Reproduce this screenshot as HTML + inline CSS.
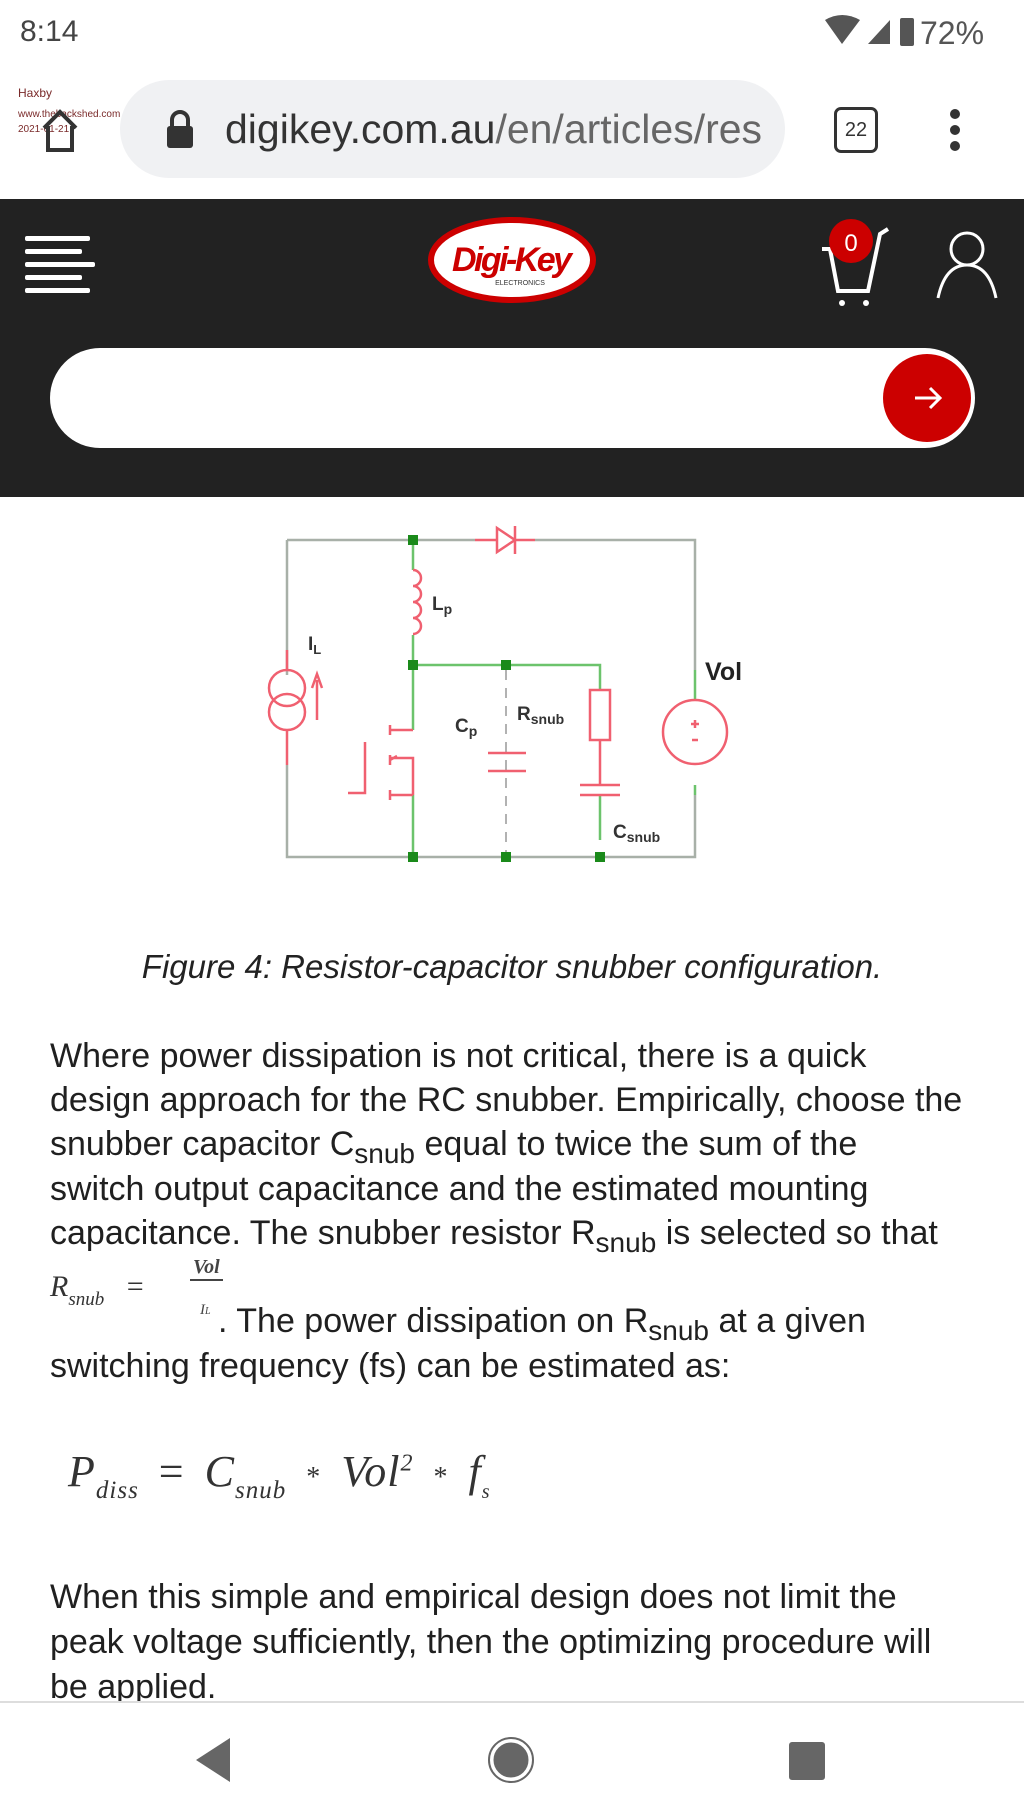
<!DOCTYPE html>
<html><head><meta charset="utf-8"><style>
body{margin:0;width:1024px;height:1820px;background:#fff;position:relative;overflow:hidden;font-family:"Liberation Sans",sans-serif;}
.a{position:absolute;white-space:nowrap;}
.t{position:absolute;left:50px;font-size:34px;color:#202020;white-space:nowrap;line-height:1;}
sub{font-size:28px;vertical-align:-8px;line-height:0;}
</style></head><body>
<div class="a" style="left:20px;top:15px;font-size:30px;color:#444">8:14</div>
<svg class="a" style="left:820px;top:12px" width="204" height="40">
<path d="M5 8 Q22 -2 40 8 L22 32 Z" fill="#555"/>
<path d="M48 32 L70 8 L70 32 Z" fill="#555"/>
<rect x="80" y="6" width="14" height="28" rx="2" fill="#555"/>
<text x="100" y="32" font-size="32" fill="#555" font-family="Liberation Sans">72%</text>
</svg>
<div class="a" style="left:18px;top:86px;font-size:12px;color:#7a2a2a">Haxby</div>
<div class="a" style="left:18px;top:109px;font-size:10px;color:#7a2a2a">www.thebackshed.com</div>
<div class="a" style="left:18px;top:124px;font-size:10px;color:#7a2a2a">2021-01-21</div>
<svg class="a" style="left:40px;top:106px" width="40" height="48"><path d="M4 22 L20 6 L36 22 M8 20 V44 H32 V20" stroke="#333" stroke-width="4" fill="none"/></svg>
<div class="a" style="left:120px;top:80px;width:665px;height:98px;border-radius:49px;background:#f0f1f3"></div>
<svg class="a" style="left:165px;top:110px" width="30" height="40"><path d="M7 16 V10 a8 8 0 0 1 16 0 V16" stroke="#333" stroke-width="4" fill="none"/><rect x="2" y="16" width="26" height="22" rx="3" fill="#333"/></svg>
<div class="a" style="left:225px;top:106px;font-size:41px;color:#333">digikey.com.au<span style="color:#666">/en/articles/res</span></div>
<div class="a" style="left:834px;top:107px;width:38px;height:40px;border:3px solid #333;border-radius:7px;font-size:20px;text-align:center;line-height:40px;color:#333">22</div>
<svg class="a" style="left:945px;top:108px" width="20" height="44"><circle cx="10" cy="6" r="5" fill="#333"/><circle cx="10" cy="22" r="5" fill="#333"/><circle cx="10" cy="38" r="5" fill="#333"/></svg>
<div class="a" style="left:0;top:199px;width:1024px;height:298px;background:#222"></div>
<svg class="a" style="left:0;top:199px" width="1024" height="298">
<g fill="#fff"><rect x="25" y="37" width="65" height="5" rx="2"/><rect x="25" y="50" width="57" height="5" rx="2"/><rect x="25" y="63" width="70" height="5" rx="2"/><rect x="25" y="76" width="57" height="5" rx="2"/><rect x="25" y="89" width="65" height="5" rx="2"/></g>
<ellipse cx="512" cy="61" rx="81" ry="40" fill="#fff" stroke="#c00" stroke-width="6"/>
<text x="512" y="72" text-anchor="middle" font-size="34" font-weight="bold" font-style="italic" fill="#c00" font-family="Liberation Sans" textLength="120">Digi-Key</text>
<text x="520" y="86" text-anchor="middle" font-size="7" fill="#333" font-family="Liberation Sans">ELECTRONICS</text>
<path d="M822 50 L830 50 L838 92 L868 92 L880 35 L888 30" stroke="#fff" stroke-width="4" fill="none"/>
<circle cx="842" cy="104" r="3" fill="#fff"/><circle cx="866" cy="104" r="3" fill="#fff"/>
<circle cx="851" cy="42" r="22" fill="#c00"/>
<text x="851" y="52" text-anchor="middle" font-size="24" fill="#fff" font-family="Liberation Sans">0</text>
<circle cx="967" cy="50" r="16" stroke="#fff" stroke-width="3" fill="none"/>
<path d="M938 99 Q945 66 967 66 Q989 66 996 99" stroke="#fff" stroke-width="3" fill="none"/>
</svg>
<div class="a" style="left:50px;top:348px;width:925px;height:100px;border-radius:50px;background:#fff"></div>
<svg class="a" style="left:880px;top:352px" width="94" height="94"><circle cx="47" cy="46" r="44" fill="#c00"/><path d="M35 46 H60 M50 36 L60 46 L50 56" stroke="#fff" stroke-width="3" fill="none"/></svg>

<svg class="a" style="left:250px;top:510px" width="520" height="360" font-family="Liberation Sans" font-weight="bold">
<g fill="none" stroke-width="2.5">
<path d="M37 30 H225 M285 30 H445 V160" stroke="#a8b0a8"/>
<path d="M37 30 V165 M37 255 V347 H445 V285" stroke="#a8b0a8"/>
<path d="M163 30 V60 M163 125 V155 H350 V180 M163 155 V220 M163 285 V347 M350 285 V330 M445 160 V190 M445 275 V285" stroke="#6cc36c"/>
<path d="M256 160 V347" stroke="#999" stroke-dasharray="10 8" stroke-width="1.5"/>
<g stroke="#f06070">
<path d="M163 60 a8 8 0 0 1 0 16 a8 8 0 0 1 0 16 a8 8 0 0 1 0 16 a8 8 0 0 1 0 16"/>
<circle cx="37" cy="178" r="18"/><circle cx="37" cy="202" r="18"/>
<path d="M37 140 V160 M37 220 V255"/>
<path d="M67 210 V170 M62 178 L67 164 L72 178"/>
<path d="M225 30 H247 M247 18 L265 30 L247 42 Z M265 16 V44 M265 30 H285"/>
<rect x="340" y="180" width="20" height="50"/>
<path d="M350 230 V275 M330 275 H370 M330 285 H370"/>
<path d="M238 243 H276 M238 261 H276"/>
<circle cx="445" cy="222" r="32"/>
<path d="M445 210 V218 M441 214 H449 M442 230 H448"/>
<path d="M163 220 H140 M163 285 H140 M140 248 H163 V285 M140 215 V225 M140 245 V255 M140 280 V290 M115 232 V283 H98 M140 250 L147 246"/>
</g></g>
<g fill="#1a8a1a"><rect x="158" y="25" width="10" height="10"/><rect x="158" y="150" width="10" height="10"/><rect x="251" y="150" width="10" height="10"/><rect x="158" y="342" width="10" height="10"/><rect x="251" y="342" width="10" height="10"/><rect x="345" y="342" width="10" height="10"/></g>
<text x="182" y="100" font-size="19" fill="#333">L<tspan font-size="14" dy="4">p</tspan></text>
<text x="58" y="140" font-size="19" fill="#333">I<tspan font-size="13" dy="4">L</tspan></text>
<text x="205" y="222" font-size="19" fill="#333">C<tspan font-size="14" dy="4">p</tspan></text>
<text x="267" y="210" font-size="19" fill="#333">R<tspan font-size="14" dy="4">snub</tspan></text>
<text x="363" y="328" font-size="19" fill="#333">C<tspan font-size="14" dy="4">snub</tspan></text>
<text x="455" y="170" font-size="25" fill="#222">Vol</text>
</svg>

<div class="a" style="left:0;width:1024px;text-align:center;top:948px;font-size:33px;font-style:italic;color:#222">Figure 4: Resistor-capacitor snubber configuration.</div>

<div class="t" style="top:1039px">Where power dissipation is not critical, there is a quick</div>
<div class="t" style="top:1083px">design approach for the RC snubber. Empirically, choose the</div>
<div class="t" style="top:1127px">snubber capacitor C<sub>snub</sub> equal to twice the sum of the</div>
<div class="t" style="top:1172px">switch output capacitance and the estimated mounting</div>
<div class="t" style="top:1216px">capacitance. The snubber resistor R<sub>snub</sub> is selected so that</div>
<div class="a" style="left:50px;top:1270px;font-family:'Liberation Serif',serif;font-style:italic;font-size:30px;color:#333">R<span style="font-size:19px;vertical-align:-9px">snub</span> <span style="font-style:normal">&nbsp;&nbsp;=</span></div>
<div class="a" style="left:190px;top:1256px;font-family:'Liberation Serif',serif;font-style:italic;font-weight:bold;font-size:20px;color:#444;border-bottom:2px solid #444;padding:0 3px">Vol</div>
<div class="a" style="left:200px;top:1302px;font-family:'Liberation Serif',serif;font-style:italic;font-size:15px;color:#444">I<span style="font-size:10px">L</span></div>
<div class="t" style="top:1304px;left:218px">. The power dissipation on R<sub>snub</sub> at a given</div>
<div class="t" style="top:1349px">switching frequency (fs) can be estimated as:</div>

<div class="a" style="left:68px;top:1446px;font-family:'Liberation Serif',serif;font-style:italic;font-size:44px;word-spacing:8px;letter-spacing:1px;color:#333">P<span style="font-size:25px;vertical-align:-12px">diss</span> <span style="font-style:normal">=</span> C<span style="font-size:25px;vertical-align:-12px">snub</span> <span style="font-style:normal;font-size:28px">*</span> Vol<sup style="font-size:24px">2</sup> <span style="font-style:normal;font-size:28px">*</span> f<span style="font-size:20px;vertical-align:-12px">s</span></div>

<div class="t" style="top:1580px">When this simple and empirical design does not limit the</div>
<div class="t" style="top:1625px">peak voltage sufficiently, then the optimizing procedure will</div>
<div class="t" style="top:1670px">be applied.</div>
<div class="a" style="left:0;top:1701px;width:1024px;height:2px;background:#ddd"></div>
<div class="a" style="left:0;top:1703px;width:1024px;height:117px;background:#fff"></div>
<svg class="a" style="left:0;top:1730px" width="1024" height="60">
<path d="M230 8 L196 30 L230 52 Z" fill="#666"/>
<circle cx="511" cy="30" r="19" fill="#666" stroke="#fff" stroke-width="3"/><circle cx="511" cy="30" r="22" fill="none" stroke="#666" stroke-width="2"/>
<rect x="789" y="12" width="36" height="38" rx="3" fill="#666"/>
</svg>
</body></html>
